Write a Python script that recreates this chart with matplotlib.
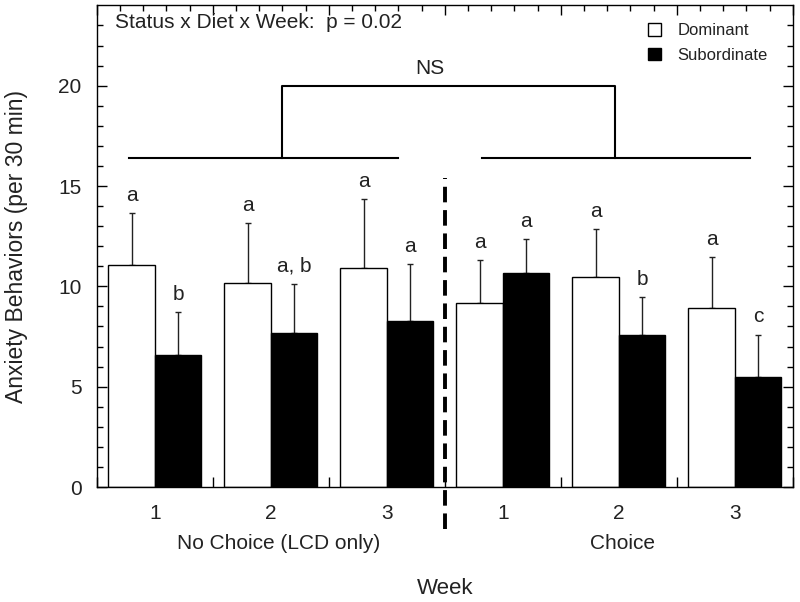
import numpy as np
import matplotlib.pyplot as plt
import matplotlib.transforms as mtransforms
from matplotlib.patches import Patch

plt.rcParams['font.family'] = ['Liberation Sans', 'DejaVu Sans']

# 数据
week_labels = ["1", "2", "3", "1", "2", "3"]
diet_labels = ["No Choice (LCD only)", "Choice"]
dominant = [11.05, 10.15, 10.9, 9.15, 10.45, 8.9]
dominant_err = [2.6, 3.0, 3.45, 2.15, 2.4, 2.55]
subordinate = [6.6, 7.7, 8.25, 10.65, 7.6, 5.5]
subordinate_err = [2.1, 2.4, 2.85, 1.7, 1.85, 2.1]
dominant_letters = ["a", "a", "a", "a", "a", "a"]
subordinate_letters = ["b", "a, b", "a", "a", "b", "c"]

# NS 括号
bracket_left = [0.78, 3.10]
bracket_right = [3.82, 6.13]
bracket_low = 16.4
bracket_high = 20.0
bracket_legs = [2.10, 4.97]

txt = '#222222'
x = np.arange(1, len(dominant) + 1)
w = 0.4

fig = plt.figure(figsize=(8, 6.02), dpi=100)
ax = fig.add_axes([0.121, 0.191, 0.870, 0.8])

ax.bar(x - w / 2, dominant, w, color='white', edgecolor='black', lw=1, zorder=2)
ax.bar(x + w / 2, subordinate, w, color='black', edgecolor='black', lw=1, zorder=2)
ax.errorbar(x - w / 2, dominant, yerr=[np.zeros(6), dominant_err], fmt='none',
            ecolor='#222222', elinewidth=1, capsize=2.5, capthick=1, zorder=1)
ax.errorbar(x + w / 2, subordinate, yerr=[np.zeros(6), subordinate_err], fmt='none',
            ecolor='#222222', elinewidth=1, capsize=2.5, capthick=1, zorder=1)

# 字母标注
for xi, v, e, s in zip(x - w / 2, dominant, dominant_err, dominant_letters):
    ax.annotate(s, (xi, v + e), xytext=(0, 13), textcoords='offset points',
                ha='center', va='center', fontsize=15, color=txt)
for xi, v, e, s in zip(x + w / 2, subordinate, subordinate_err, subordinate_letters):
    ax.annotate(s, (xi, v + e), xytext=(0, 13), textcoords='offset points',
                ha='center', va='center', fontsize=15, color=txt)

# 括号
ax.plot(bracket_left, [bracket_low] * 2, color='black', lw=1.5)
ax.plot(bracket_right, [bracket_low] * 2, color='black', lw=1.5)
ax.plot([bracket_legs[0], bracket_legs[0], bracket_legs[1], bracket_legs[1]],
        [bracket_low, bracket_high, bracket_high, bracket_low], color='black', lw=1.5)
ax.text(3.37, bracket_high + 0.85, "NS", ha='center', va='center', fontsize=15, color=txt)

# 分隔虚线
ax.plot([3.5, 3.5], [-2.1, 15.4], color='black', lw=2.8, ls=(0, (4, 2)),
        clip_on=False, zorder=3)

ax.text(0.026, 0.965, "Status x Diet x Week:  p = 0.02", transform=ax.transAxes,
        ha='left', va='center', fontsize=15, color=txt)

handles = [Patch(facecolor='white', edgecolor='black', lw=1),
           Patch(facecolor='black', edgecolor='black', lw=1)]
ax.legend(handles, ["Dominant", "Subordinate"], loc='upper left',
          bbox_to_anchor=(0.78, 0.98), frameon=False, fontsize=12,
          handlelength=0.75, handleheight=0.75, handletextpad=1.0,
          labelspacing=0.55, borderpad=0, labelcolor=txt)

ax.set_xlim(0.5, 6.5)
ax.set_ylim(0, 24)
ax.set_yticks(np.arange(0, 21, 5))
ax.set_yticks(np.arange(0, 24, 1), minor=True)
ax.set_xticks(np.arange(0.5, 6.6, 1))
ax.set_xticks(np.arange(0.5, 6.6, 0.2), minor=True)
ax.tick_params(which='both', direction='in', top=True, right=True,
               labelbottom=False, labelsize=15, labelcolor=txt)
ax.tick_params(axis='y', which='major', pad=11)
ax.tick_params(which='major', length=7, width=1)
ax.tick_params(which='minor', length=4, width=1)
for sp in ax.spines.values():
    sp.set_linewidth(1)

sec = ax.secondary_xaxis('bottom')
sec.set_xticks(x, week_labels)
sec.tick_params(length=0, pad=12, labelsize=15, labelcolor=txt)
sec.spines['bottom'].set_visible(False)

trans = mtransforms.blended_transform_factory(ax.transData, ax.transAxes)
ax.text(2.07, -0.117, diet_labels[0], transform=trans, ha='center', va='center',
        fontsize=15, color=txt)
ax.text(5.03, -0.117, diet_labels[1], transform=trans, ha='center', va='center',
        fontsize=15, color=txt)

ax.set_ylabel("Anxiety Behaviors (per 30 min)", fontsize=16.5, color=txt, labelpad=22)
fig.text(0.556, 0.023, "Week", ha='center', va='center', fontsize=16, color=txt)

fig.savefig("out.png", dpi=100)
